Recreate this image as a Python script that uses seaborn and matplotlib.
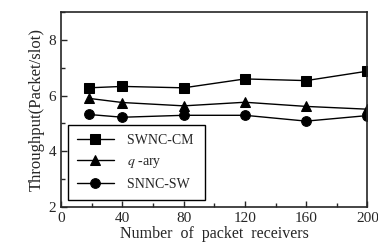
import pandas as pd
import numpy as np
import matplotlib
matplotlib.use("Agg")
import matplotlib.pyplot as plt
import seaborn as sns
from matplotlib.ticker import MultipleLocator

receptores = [18, 40, 80, 120, 160, 200]
swnc_cm = [6.28, 6.33, 6.28, 6.60, 6.54, 6.88]
q_ary = [5.90, 5.75, 5.63, 5.76, 5.61, 5.51]
snnc_sw = [5.32, 5.22, 5.29, 5.29, 5.08, 5.28]
series = ["SWNC-CM", "$q$ -ary", "SNNC-SW"]

df = pd.DataFrame({
    "x": receptores * 3,
    "y": swnc_cm + q_ary + snnc_sw,
    "serie": [series[0]] * 6 + [series[1]] * 6 + [series[2]] * 6,
})

sns.set_style("ticks")
plt.rcParams["font.family"] = ["Liberation Serif", "DejaVu Serif"]
plt.rcParams["mathtext.fontset"] = "stix"

fig, ax = plt.subplots(figsize=(3.78, 2.46), dpi=100)
sns.lineplot(data=df, x="x", y="y", style="serie", hue="serie",
             palette=["black"] * 3, markers=["s", "^", "o"], dashes=False,
             markersize=7, linewidth=1.0, markeredgecolor="black", ax=ax)

ax.set_xlim(0, 200)
ax.set_ylim(2, 9)
ax.set_xticks([0, 40, 80, 120, 160, 200])
ax.set_yticks([2, 4, 6, 8])
ax.xaxis.set_minor_locator(MultipleLocator(20))
ax.yaxis.set_minor_locator(MultipleLocator(1))
ax.tick_params(direction="in", which="both", labelsize=11, length=4, width=1)
ax.tick_params(which="minor", length=3)
for s in ax.spines.values():
    s.set_linewidth(1.2)
    s.set_visible(True)
ax.set_xlabel("Number  of  packet  receivers", fontsize=11.5, labelpad=1)
ax.set_ylabel("Throughput(Packet/slot)", fontsize=12, labelpad=3)

leg = ax.legend(loc="lower left", bbox_to_anchor=(0.023, 0.036), fontsize=10,
                handlelength=2.7, handletextpad=0.9, frameon=True, fancybox=False,
                edgecolor="black", framealpha=1, borderpad=0.6, labelspacing=0.6,
                borderaxespad=0)
leg.get_frame().set_linewidth(1.0)
for t in leg.get_texts():
    t.set_text(t.get_text() + " ")

plt.subplots_adjust(left=0.162, right=0.972, top=0.95, bottom=0.16)
plt.savefig("out.png", dpi=100)
